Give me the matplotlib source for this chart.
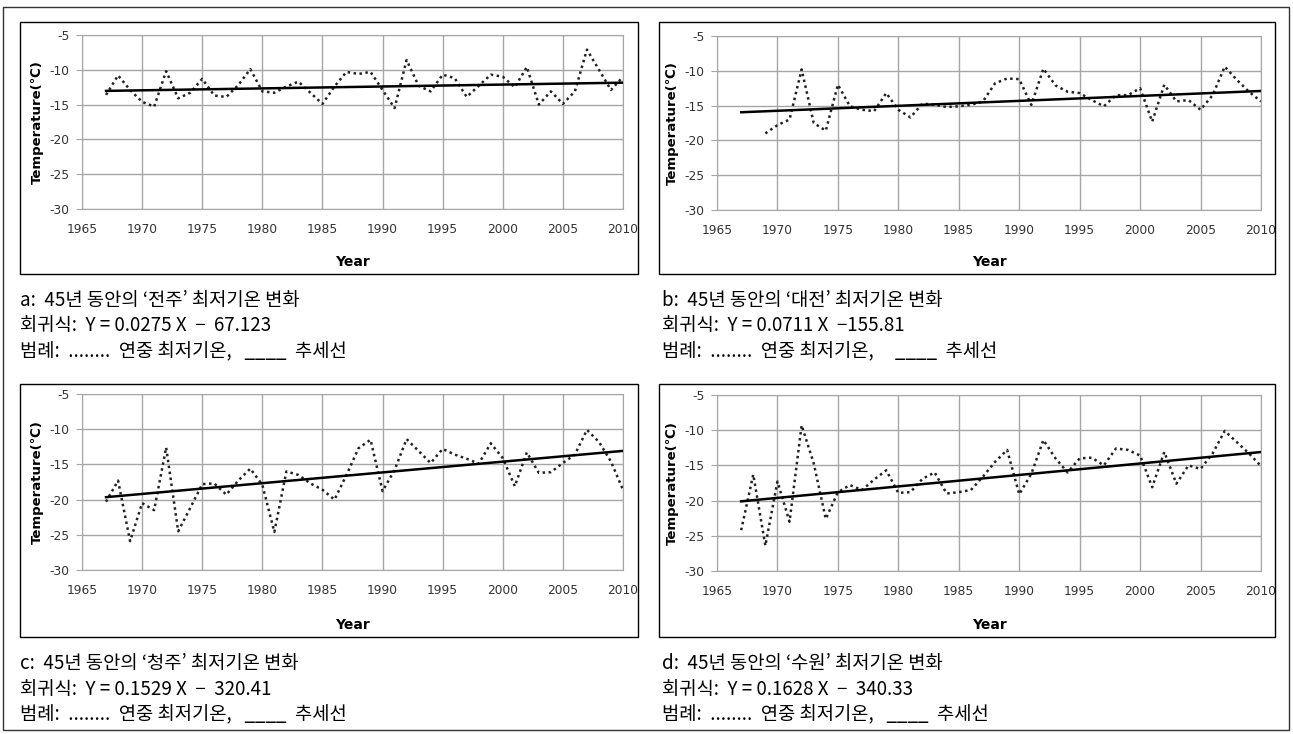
import matplotlib
matplotlib.use('Agg')
import matplotlib.pyplot as plt
from matplotlib.patches import Rectangle

plt.rcParams['axes.unicode_minus'] = False

# 연도
years_a = list(range(1967, 2011))
years_b = list(range(1969, 2011))
years_c = list(range(1967, 2011))
years_d = list(range(1967, 2011))

# 연중 최저기온 (전주)
temp_a = [-13.6, -10.8, -12.9, -14.6, -15.3, -10.2, -14.1, -13.3, -11.3, -13.7,
          -13.9, -12.2, -9.9, -13.1, -13.3, -12.4, -11.7, -13.3, -14.9, -12.4,
          -10.3, -10.6, -10.3, -12.9, -15.5, -8.6, -12.3, -13.1, -10.7, -11.2,
          -13.9, -12.3, -10.7, -11.0, -12.5, -9.6, -15.0, -13.1, -14.9, -13.1,
          -7.1, -10.0, -12.9, -11.0]
# 대전
temp_b = [-19.0, -17.8, -17.0, -9.8, -17.5, -18.6, -12.0, -15.1, -15.6, -15.8,
          -13.2, -15.6, -16.7, -14.7, -14.9, -15.2, -15.1, -14.9, -14.4, -11.8,
          -11.1, -11.2, -14.9, -9.7, -12.1, -13.0, -13.2, -14.2, -15.1, -13.5,
          -13.5, -12.5, -17.3, -12.0, -14.4, -14.2, -15.6, -13.5, -9.4, -11.3,
          -13.0, -14.4]
# 청주
temp_c = [-20.3, -17.3, -25.9, -20.5, -21.5, -12.6, -24.5, -21.2, -17.8, -17.7,
          -19.3, -17.3, -15.6, -17.9, -24.6, -16.0, -16.5, -17.7, -18.6, -20.0,
          -16.5, -12.7, -11.5, -18.8, -15.8, -11.4, -13.1, -14.8, -12.8, -13.6,
          -14.2, -14.9, -12.0, -14.1, -18.1, -13.3, -16.2, -16.1, -14.8, -13.6,
          -10.1, -11.8, -14.6, -18.6]
# 수원
temp_d = [-24.2, -16.3, -26.4, -17.3, -23.0, -9.3, -14.7, -22.6, -18.8, -17.8,
          -18.5, -17.0, -15.7, -18.9, -18.8, -16.9, -16.0, -19.0, -18.8, -18.5,
          -16.6, -14.5, -12.8, -19.1, -16.2, -11.4, -14.0, -16.0, -14.0, -13.9,
          -15.0, -12.6, -12.8, -13.6, -18.1, -13.1, -17.6, -15.0, -15.5, -13.3,
          -10.1, -11.7, -13.3, -15.1]

# 회귀식 계수 (기울기, 절편)
coef_a = (0.0275, -67.123)
coef_b = (0.0711, -155.81)
coef_c = (0.1529, -320.41)
coef_d = (0.1628, -340.33)
trend_years = [1967, 2010]

captions = [
    ['a:  45년 동안의 ‘전주’ 최저기온 변화', '회귀식:  Y = 0.0275 X  −  67.123', '범례:  ........  연중 최저기온,   ____  추세선'],
    ['b:  45년 동안의 ‘대전’ 최저기온 변화', '회귀식:  Y = 0.0711 X  −155.81', '범례:  ........  연중 최저기온,     ____  추세선'],
    ['c:  45년 동안의 ‘청주’ 최저기온 변화', '회귀식:  Y = 0.1529 X  −  320.41', '범례:  ........  연중 최저기온,   ____  추세선'],
    ['d:  45년 동안의 ‘수원’ 최저기온 변화', '회귀식:  Y = 0.1628 X  −  340.33', '범례:  ........  연중 최저기온,   ____  추세선'],
]

W, H = 1293, 734
fig = plt.figure(figsize=(W / 100, H / 100), dpi=100)

def fx(px):
    return px / W

def fy(py):
    return 1 - py / H

fig.patches.append(Rectangle((fx(3), fy(730)), fx(1289) - fx(3), fy(7) - fy(730),
                             transform=fig.transFigure, fill=False, ec='#333333', lw=1))

panels = [
    (years_a, temp_a, coef_a, (82, 35, 623, 209), (20, 22, 638, 274)),
    (years_b, temp_b, coef_b, (717, 36, 1261, 210), (659, 22, 1275, 274)),
    (years_c, temp_c, coef_c, (82, 394, 623, 570), (20, 384, 638, 637)),
    (years_d, temp_d, coef_d, (717, 395, 1261, 571), (659, 384, 1275, 637)),
]

grid_c = '#a6a6a6'
for i, (yrs, tmp, coef, box, frame) in enumerate(panels):
    x0, y0, x1, y1 = box
    ax = fig.add_axes([fx(x0), fy(y1), fx(x1) - fx(x0), fy(y0) - fy(y1)])
    ax.plot(yrs, tmp, color='#222222', lw=1.8, linestyle=(0, (1, 1.4)))
    tr = [coef[0] * t + coef[1] for t in trend_years]
    ax.plot(trend_years, tr, color='black', lw=1.8)
    ax.set_xlim(1965, 2010)
    ax.set_ylim(-30, -5)
    ax.set_xticks(range(1965, 2011, 5))
    ax.set_yticks(range(-30, -4, 5))
    ax.grid(True, color=grid_c, lw=1)
    ax.set_axisbelow(True)
    for s in ax.spines.values():
        s.set_color(grid_c)
    ax.tick_params(axis='y', length=4, color=grid_c, pad=5, labelsize=8.8, labelcolor='#333333')
    ax.tick_params(axis='x', length=0, pad=10, labelsize=8.8, labelcolor='#333333')

    fig.text(fx(x0 - 45), fy((y0 + y1) / 2), 'Temperature(℃)', rotation=90,
             ha='center', va='center', fontsize=9.5, fontweight='bold')
    fig.text(fx((x0 + x1) / 2), fy(frame[3] - 12), 'Year', ha='center', va='center',
             fontsize=10, fontweight='bold')

    fig.patches.append(Rectangle((fx(frame[0]), fy(frame[3])), fx(frame[2]) - fx(frame[0]),
                                 fy(frame[1]) - fy(frame[3]), transform=fig.transFigure,
                                 fill=False, ec='black', lw=1))
    tx = frame[0] + (0 if i % 2 == 0 else 3)
    for k, line in enumerate(captions[i]):
        fig.text(fx(tx), fy(frame[3] + 26 + 26 * k), line, ha='left', va='center',
                 fontsize=13.5, family=['Noto Sans CJK KR', 'DejaVu Sans'])

fig.savefig('out.png', dpi=100)
